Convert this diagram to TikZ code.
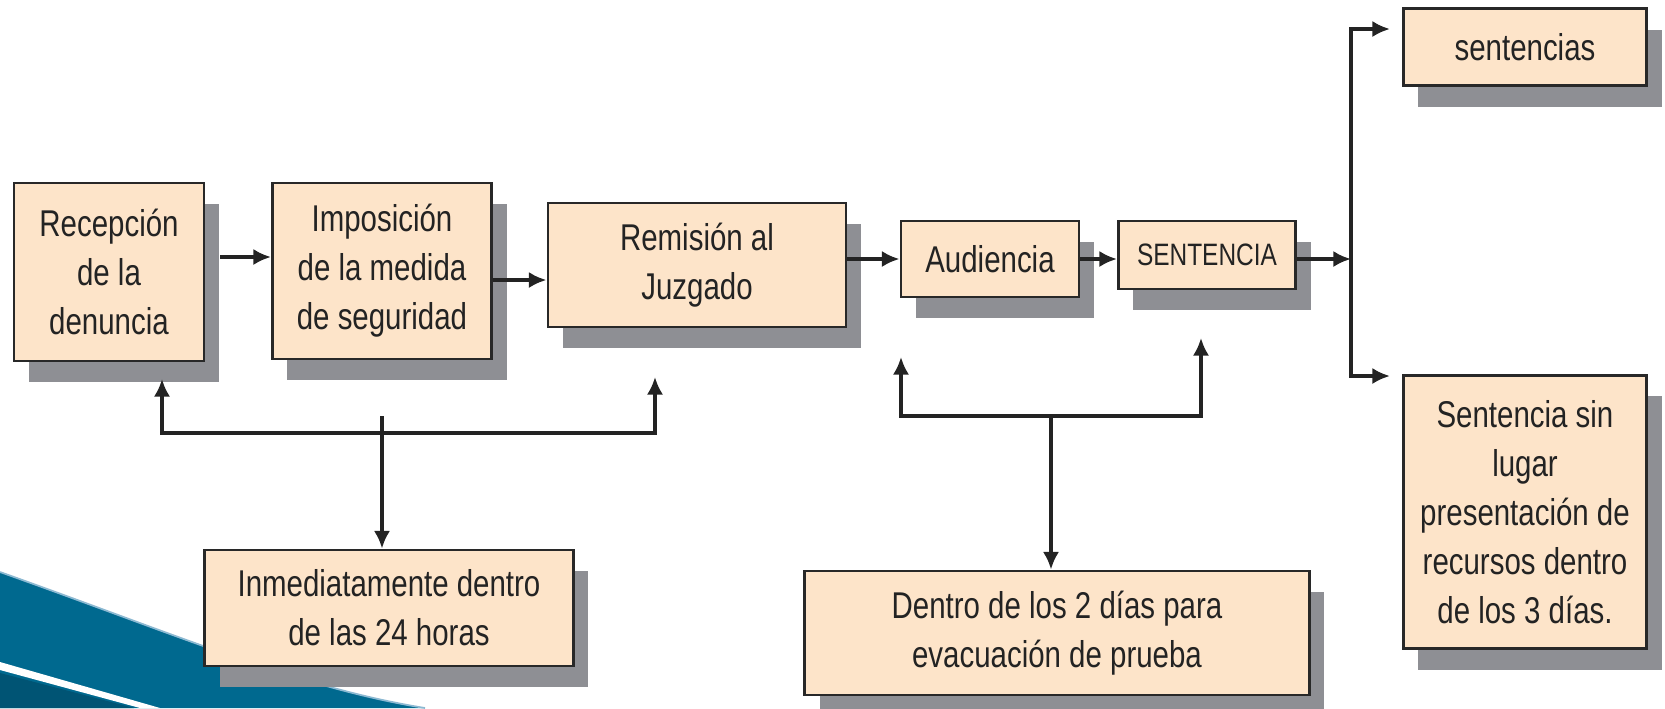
\documentclass[tikz,border=0pt]{standalone}
\usepackage{fontspec}
\setmainfont{Liberation Sans}[FakeStretch=0.79]
\usetikzlibrary{arrows.meta,shadows}
\definecolor{peach}{RGB}{253,228,201}
\definecolor{shade}{RGB}{142,143,148}
\definecolor{boxline}{RGB}{40,40,40}
\definecolor{ink}{RGB}{35,35,35}
\definecolor{slideblue}{RGB}{0,105,143}
\definecolor{deepblue}{RGB}{0,84,116}
\definecolor{paleblue}{RGB}{140,185,210}
\tikzset{>={Latex[length=5pt,width=4.6pt]}}
\tikzset{stage/.style={rectangle, draw=boxline, line width=0.8pt, fill=peach, text=ink, align=center, inner sep=0pt,
 font=\fontsize{10.6}{13.9}\selectfont, drop shadow={shadow xshift=0.15cm, shadow yshift=-0.21cm, fill=shade, opacity=1}}}
\tikzset{line/.style={draw=ink, line width=1.1pt, ->}}
\tikzset{fork/.style={draw=ink, line width=0.9pt, <->}}
\begin{document}
\begin{tikzpicture}[x=0.01cm, y=-0.01cm]
        \useasboundingbox (0,0) rectangle (1665,708);
        \fill[slideblue] (0,572) .. controls (180,636) and (300,688) .. (425,708) -- (0,708) -- cycle;
        \draw[paleblue, line width=0.5pt] (0,572) .. controls (180,636) and (300,688) .. (425,708);
        \fill[white] (0,662) -- (160,708) -- (140,708) -- (0,670) -- cycle;
        \fill[deepblue] (0,673) -- (134,708) -- (0,708) -- cycle;

        \node[stage, minimum width=1.90cm, minimum height=1.78cm] (recep) at (109,272) {Recepción\\de la\\denuncia};
        \node[stage, minimum width=2.19cm, minimum height=1.76cm] (impos) at (382,271) {Imposición\\de la medida\\de seguridad};
        \node[stage, minimum width=2.98cm, minimum height=1.24cm] (remis) at (697,265) {Remisión al\\Juzgado};
        \node[stage, minimum width=1.78cm, minimum height=0.76cm] (audien) at (990,259) {Audiencia};
        \node[stage, minimum width=1.77cm, minimum height=0.68cm, font=\fontsize{8.8}{11}\selectfont] (sent) at (1207,255) {SENTENCIA};
        \node[stage, minimum width=2.43cm, minimum height=0.77cm] (sents) at (1525,47) {sentencias};
        \node[stage, minimum width=2.43cm, minimum height=2.73cm] (sinlugar) at (1525,512) {Sentencia sin\\lugar\\presentación de\\recursos dentro\\de los 3 días.};
        \node[stage, minimum width=3.68cm, minimum height=1.16cm] (inmed) at (389,608) {Inmediatamente dentro\\de las 24 horas};
        \node[stage, minimum width=5.04cm, minimum height=1.24cm] (dentro) at (1057,633) {Dentro de los 2 días para\\evacuación de prueba};

        \coordinate (row12) at (0,257);
        \coordinate (row23) at (0,280);
        \coordinate (row45) at (0,259);
        \coordinate (split) at (1351,259);
        \coordinate (splitup) at (1351,29);
        \coordinate (splitdown) at (1351,376);
        \coordinate (leftup) at (162,379);
        \coordinate (leftbar) at (162,433);
        \coordinate (rightbar) at (655,433);
        \coordinate (rightup) at (655,377);
        \coordinate (leftdrop) at (382,416);
        \coordinate (midleft) at (901,357);
        \coordinate (midbarl) at (901,416);
        \coordinate (midbarr) at (1201,416);
        \coordinate (midright) at (1201,338);
        \coordinate (middrop) at (1051,416);

        \path[line, shorten <=0.15cm] (recep.east |- row12) -- (impos.west |- row12);
        \path[line] (impos.east |- row23) -- (remis.west |- row23);
        \path[line] (remis.east |- row45) -- (audien.west |- row45);
        \path[line] (audien.east |- row45) -- (sent.west |- row45);
        \path[line] (sent.east |- split) -- (split);
        \path[fork, line width=1.1pt, shorten <=0.12cm, shorten >=0.12cm] (splitup -| sents.west) -- (splitup) -- (splitdown) -- (splitdown -| sinlugar.west);

        \path[fork] (leftup) -- (leftbar) -- (rightbar) -- (rightup);
        \path[line] (leftdrop) -- (leftdrop |- inmed.north);
        \path[fork] (midleft) -- (midbarl) -- (midbarr) -- (midright);
        \path[line] (middrop) -- (middrop |- dentro.north);

     \end{tikzpicture}
\end{document}
